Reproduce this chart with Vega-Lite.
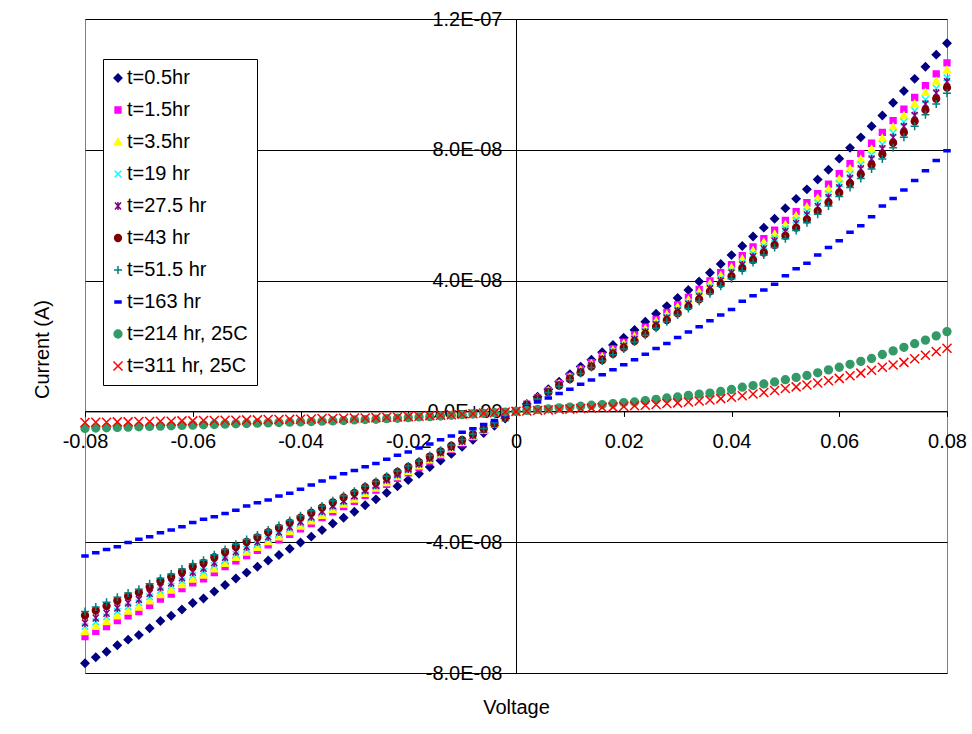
{
"$schema": "https://vega.github.io/schema/vega-lite/v6.json",
"width": 862, "height": 654,
"autosize": {"type": "none"},
"padding": {"left": 85, "top": 19, "right": 25, "bottom": 61},
"background": "white",
"config": {
  "view": {"stroke": "#808080", "strokeWidth": 1},
  "font": "Liberation Sans",
  "legend": {"orient": "none", "legendX": 18, "legendY": 40, "strokeColor": "black", "fillColor": "white", "padding": 9, "rowPadding": 12, "labelFontSize": 20, "labelFont": "Liberation Sans", "labelColor": "black", "symbolStrokeWidth": 1.5, "labelOffset": -1, "symbolOffset": -4, "symbolSize": 100, "labelLimit": 400}
},
"data": {"values": [
{"v":-0.080,"a":-7.70e-8,"b":-6.89e-8,"c":-6.74e-8,"d":-6.58e-8,"e":-6.47e-8,"f":-6.24e-8,"g":-6.12e-8,"h":-4.42e-8,"i":-0.52e-8,"j":-0.34e-8},
{"v":-0.078,"a":-7.52e-8,"b":-6.73e-8,"c":-6.58e-8,"d":-6.43e-8,"e":-6.32e-8,"f":-6.09e-8,"g":-5.98e-8,"h":-4.32e-8,"i":-0.51e-8,"j":-0.33e-8},
{"v":-0.076,"a":-7.35e-8,"b":-6.58e-8,"c":-6.43e-8,"d":-6.28e-8,"e":-6.17e-8,"f":-5.95e-8,"g":-5.84e-8,"h":-4.22e-8,"i":-0.50e-8,"j":-0.33e-8},
{"v":-0.074,"a":-7.15e-8,"b":-6.40e-8,"c":-6.26e-8,"d":-6.11e-8,"e":-6.01e-8,"f":-5.79e-8,"g":-5.68e-8,"h":-4.14e-8,"i":-0.49e-8,"j":-0.32e-8},
{"v":-0.072,"a":-6.98e-8,"b":-6.25e-8,"c":-6.11e-8,"d":-5.97e-8,"e":-5.86e-8,"f":-5.65e-8,"g":-5.55e-8,"h":-4.01e-8,"i":-0.48e-8,"j":-0.32e-8},
{"v":-0.070,"a":-6.84e-8,"b":-6.12e-8,"c":-5.99e-8,"d":-5.85e-8,"e":-5.75e-8,"f":-5.54e-8,"g":-5.44e-8,"h":-3.91e-8,"i":-0.47e-8,"j":-0.31e-8},
{"v":-0.068,"a":-6.63e-8,"b":-5.93e-8,"c":-5.80e-8,"d":-5.67e-8,"e":-5.57e-8,"f":-5.37e-8,"g":-5.27e-8,"h":-3.83e-8,"i":-0.46e-8,"j":-0.31e-8},
{"v":-0.066,"a":-6.41e-8,"b":-5.74e-8,"c":-5.61e-8,"d":-5.48e-8,"e":-5.38e-8,"f":-5.19e-8,"g":-5.10e-8,"h":-3.71e-8,"i":-0.45e-8,"j":-0.30e-8},
{"v":-0.064,"a":-6.25e-8,"b":-5.59e-8,"c":-5.47e-8,"d":-5.34e-8,"e":-5.25e-8,"f":-5.06e-8,"g":-4.97e-8,"h":-3.63e-8,"i":-0.44e-8,"j":-0.30e-8},
{"v":-0.062,"a":-6.06e-8,"b":-5.42e-8,"c":-5.30e-8,"d":-5.18e-8,"e":-5.09e-8,"f":-4.91e-8,"g":-4.82e-8,"h":-3.53e-8,"i":-0.43e-8,"j":-0.29e-8},
{"v":-0.060,"a":-5.86e-8,"b":-5.24e-8,"c":-5.13e-8,"d":-5.01e-8,"e":-4.92e-8,"f":-4.75e-8,"g":-4.66e-8,"h":-3.40e-8,"i":-0.42e-8,"j":-0.29e-8},
{"v":-0.058,"a":-5.72e-8,"b":-5.12e-8,"c":-5.01e-8,"d":-4.89e-8,"e":-4.80e-8,"f":-4.63e-8,"g":-4.55e-8,"h":-3.30e-8,"i":-0.41e-8,"j":-0.28e-8},
{"v":-0.056,"a":-5.51e-8,"b":-4.93e-8,"c":-4.82e-8,"d":-4.71e-8,"e":-4.63e-8,"f":-4.46e-8,"g":-4.38e-8,"h":-3.22e-8,"i":-0.40e-8,"j":-0.28e-8},
{"v":-0.054,"a":-5.31e-8,"b":-4.75e-8,"c":-4.65e-8,"d":-4.54e-8,"e":-4.46e-8,"f":-4.30e-8,"g":-4.22e-8,"h":-3.12e-8,"i":-0.39e-8,"j":-0.27e-8},
{"v":-0.052,"a":-5.11e-8,"b":-4.57e-8,"c":-4.47e-8,"d":-4.37e-8,"e":-4.29e-8,"f":-4.14e-8,"g":-4.06e-8,"h":-3.02e-8,"i":-0.38e-8,"j":-0.27e-8},
{"v":-0.050,"a":-4.93e-8,"b":-4.41e-8,"c":-4.31e-8,"d":-4.22e-8,"e":-4.14e-8,"f":-3.99e-8,"g":-3.92e-8,"h":-2.89e-8,"i":-0.37e-8,"j":-0.26e-8},
{"v":-0.048,"a":-4.75e-8,"b":-4.25e-8,"c":-4.16e-8,"d":-4.06e-8,"e":-3.99e-8,"f":-3.85e-8,"g":-3.78e-8,"h":-2.79e-8,"i":-0.36e-8,"j":-0.26e-8},
{"v":-0.046,"a":-4.56e-8,"b":-4.08e-8,"c":-3.99e-8,"d":-3.90e-8,"e":-3.83e-8,"f":-3.69e-8,"g":-3.63e-8,"h":-2.71e-8,"i":-0.35e-8,"j":-0.25e-8},
{"v":-0.044,"a":-4.39e-8,"b":-3.93e-8,"c":-3.84e-8,"d":-3.75e-8,"e":-3.69e-8,"f":-3.56e-8,"g":-3.49e-8,"h":-2.59e-8,"i":-0.34e-8,"j":-0.25e-8},
{"v":-0.042,"a":-4.20e-8,"b":-3.76e-8,"c":-3.68e-8,"d":-3.59e-8,"e":-3.53e-8,"f":-3.40e-8,"g":-3.34e-8,"h":-2.50e-8,"i":-0.33e-8,"j":-0.24e-8},
{"v":-0.040,"a":-4.01e-8,"b":-3.59e-8,"c":-3.51e-8,"d":-3.43e-8,"e":-3.37e-8,"f":-3.25e-8,"g":-3.19e-8,"h":-2.38e-8,"i":-0.32e-8,"j":-0.24e-8},
{"v":-0.038,"a":-3.83e-8,"b":-3.43e-8,"c":-3.35e-8,"d":-3.27e-8,"e":-3.22e-8,"f":-3.10e-8,"g":-3.04e-8,"h":-2.25e-8,"i":-0.31e-8,"j":-0.23e-8},
{"v":-0.036,"a":-3.63e-8,"b":-3.25e-8,"c":-3.18e-8,"d":-3.10e-8,"e":-3.05e-8,"f":-2.94e-8,"g":-2.89e-8,"h":-2.13e-8,"i":-0.30e-8,"j":-0.22e-8},
{"v":-0.034,"a":-3.43e-8,"b":-3.07e-8,"c":-3.00e-8,"d":-2.93e-8,"e":-2.88e-8,"f":-2.78e-8,"g":-2.73e-8,"h":-2.02e-8,"i":-0.29e-8,"j":-0.22e-8},
{"v":-0.032,"a":-3.25e-8,"b":-2.91e-8,"c":-2.84e-8,"d":-2.78e-8,"e":-2.73e-8,"f":-2.63e-8,"g":-2.58e-8,"h":-1.91e-8,"i":-0.28e-8,"j":-0.21e-8},
{"v":-0.030,"a":-3.07e-8,"b":-2.75e-8,"c":-2.69e-8,"d":-2.62e-8,"e":-2.58e-8,"f":-2.49e-8,"g":-2.44e-8,"h":-1.81e-8,"i":-0.26e-8,"j":-0.20e-8},
{"v":-0.028,"a":-2.87e-8,"b":-2.57e-8,"c":-2.51e-8,"d":-2.45e-8,"e":-2.41e-8,"f":-2.32e-8,"g":-2.28e-8,"h":-1.69e-8,"i":-0.25e-8,"j":-0.20e-8},
{"v":-0.026,"a":-2.69e-8,"b":-2.41e-8,"c":-2.35e-8,"d":-2.30e-8,"e":-2.26e-8,"f":-2.18e-8,"g":-2.14e-8,"h":-1.59e-8,"i":-0.24e-8,"j":-0.19e-8},
{"v":-0.024,"a":-2.49e-8,"b":-2.23e-8,"c":-2.18e-8,"d":-2.13e-8,"e":-2.09e-8,"f":-2.02e-8,"g":-1.98e-8,"h":-1.46e-8,"i":-0.22e-8,"j":-0.18e-8},
{"v":-0.022,"a":-2.29e-8,"b":-2.05e-8,"c":-2.00e-8,"d":-1.96e-8,"e":-1.92e-8,"f":-1.85e-8,"g":-1.82e-8,"h":-1.34e-8,"i":-0.21e-8,"j":-0.17e-8},
{"v":-0.020,"a":-2.10e-8,"b":-1.88e-8,"c":-1.84e-8,"d":-1.80e-8,"e":-1.76e-8,"f":-1.70e-8,"g":-1.67e-8,"h":-1.24e-8,"i":-0.19e-8,"j":-0.16e-8},
{"v":-0.018,"a":-1.91e-8,"b":-1.71e-8,"c":-1.67e-8,"d":-1.63e-8,"e":-1.60e-8,"f":-1.55e-8,"g":-1.52e-8,"h":-1.12e-8,"i":-0.17e-8,"j":-0.15e-8},
{"v":-0.016,"a":-1.70e-8,"b":-1.52e-8,"c":-1.49e-8,"d":-1.45e-8,"e":-1.43e-8,"f":-1.38e-8,"g":-1.35e-8,"h":-1.00e-8,"i":-0.16e-8,"j":-0.13e-8},
{"v":-0.014,"a":-1.50e-8,"b":-1.34e-8,"c":-1.31e-8,"d":-1.28e-8,"e":-1.26e-8,"f":-1.22e-8,"g":-1.19e-8,"h":-0.87e-8,"i":-0.14e-8,"j":-0.12e-8},
{"v":-0.012,"a":-1.30e-8,"b":-1.16e-8,"c":-1.14e-8,"d":-1.11e-8,"e":-1.09e-8,"f":-1.05e-8,"g":-1.03e-8,"h":-0.75e-8,"i":-0.12e-8,"j":-0.10e-8},
{"v":-0.010,"a":-1.08e-8,"b":-0.97e-8,"c":-0.95e-8,"d":-0.92e-8,"e":-0.91e-8,"f":-0.87e-8,"g":-0.86e-8,"h":-0.64e-8,"i":-0.10e-8,"j":-0.09e-8},
{"v":-0.008,"a":-0.87e-8,"b":-0.78e-8,"c":-0.76e-8,"d":-0.74e-8,"e":-0.73e-8,"f":-0.70e-8,"g":-0.69e-8,"h":-0.53e-8,"i":-0.08e-8,"j":-0.07e-8},
{"v":-0.006,"a":-0.66e-8,"b":-0.59e-8,"c":-0.58e-8,"d":-0.56e-8,"e":-0.55e-8,"f":-0.53e-8,"g":-0.52e-8,"h":-0.40e-8,"i":-0.06e-8,"j":-0.05e-8},
{"v":-0.004,"a":-0.44e-8,"b":-0.39e-8,"c":-0.38e-8,"d":-0.38e-8,"e":-0.37e-8,"f":-0.36e-8,"g":-0.35e-8,"h":-0.28e-8,"i":-0.04e-8,"j":-0.04e-8},
{"v":-0.002,"a":-0.22e-8,"b":-0.20e-8,"c":-0.19e-8,"d":-0.19e-8,"e":-0.18e-8,"f":-0.18e-8,"g":-0.17e-8,"h":-0.14e-8,"i":-0.02e-8,"j":-0.02e-8},
{"v":0,"a":0.01e-8,"b":0.01e-8,"c":0,"d":0,"e":0,"f":0,"g":0,"h":0,"i":0,"j":0},
{"v":0.002,"a":0.23e-8,"b":0.22e-8,"c":0.21e-8,"d":0.21e-8,"e":0.20e-8,"f":0.20e-8,"g":0.20e-8,"h":0.15e-8,"i":0.03e-8,"j":0.01e-8},
{"v":0.004,"a":0.45e-8,"b":0.42e-8,"c":0.41e-8,"d":0.41e-8,"e":0.40e-8,"f":0.39e-8,"g":0.38e-8,"h":0.29e-8,"i":0.06e-8,"j":0.03e-8},
{"v":0.006,"a":0.68e-8,"b":0.64e-8,"c":0.63e-8,"d":0.61e-8,"e":0.60e-8,"f":0.59e-8,"g":0.58e-8,"h":0.41e-8,"i":0.08e-8,"j":0.04e-8},
{"v":0.008,"a":0.91e-8,"b":0.86e-8,"c":0.84e-8,"d":0.82e-8,"e":0.81e-8,"f":0.79e-8,"g":0.77e-8,"h":0.55e-8,"i":0.11e-8,"j":0.06e-8},
{"v":0.010,"a":1.14e-8,"b":1.07e-8,"c":1.05e-8,"d":1.03e-8,"e":1.01e-8,"f":0.99e-8,"g":0.97e-8,"h":0.68e-8,"i":0.13e-8,"j":0.07e-8},
{"v":0.012,"a":1.37e-8,"b":1.29e-8,"c":1.26e-8,"d":1.23e-8,"e":1.21e-8,"f":1.19e-8,"g":1.16e-8,"h":0.83e-8,"i":0.16e-8,"j":0.09e-8},
{"v":0.014,"a":1.58e-8,"b":1.49e-8,"c":1.45e-8,"d":1.42e-8,"e":1.40e-8,"f":1.37e-8,"g":1.34e-8,"h":0.96e-8,"i":0.19e-8,"j":0.10e-8},
{"v":0.016,"a":1.81e-8,"b":1.70e-8,"c":1.67e-8,"d":1.63e-8,"e":1.60e-8,"f":1.57e-8,"g":1.54e-8,"h":1.12e-8,"i":0.21e-8,"j":0.12e-8},
{"v":0.018,"a":2.03e-8,"b":1.91e-8,"c":1.87e-8,"d":1.83e-8,"e":1.80e-8,"f":1.76e-8,"g":1.73e-8,"h":1.27e-8,"i":0.24e-8,"j":0.13e-8},
{"v":0.020,"a":2.25e-8,"b":2.12e-8,"c":2.07e-8,"d":2.03e-8,"e":1.99e-8,"f":1.95e-8,"g":1.91e-8,"h":1.43e-8,"i":0.27e-8,"j":0.15e-8},
{"v":0.022,"a":2.49e-8,"b":2.34e-8,"c":2.29e-8,"d":2.24e-8,"e":2.20e-8,"f":2.15e-8,"g":2.12e-8,"h":1.58e-8,"i":0.29e-8,"j":0.17e-8},
{"v":0.024,"a":2.74e-8,"b":2.58e-8,"c":2.52e-8,"d":2.47e-8,"e":2.42e-8,"f":2.37e-8,"g":2.33e-8,"h":1.75e-8,"i":0.33e-8,"j":0.19e-8},
{"v":0.026,"a":2.99e-8,"b":2.81e-8,"c":2.75e-8,"d":2.69e-8,"e":2.65e-8,"f":2.59e-8,"g":2.54e-8,"h":1.92e-8,"i":0.37e-8,"j":0.21e-8},
{"v":0.028,"a":3.22e-8,"b":3.03e-8,"c":2.96e-8,"d":2.90e-8,"e":2.85e-8,"f":2.79e-8,"g":2.74e-8,"h":2.08e-8,"i":0.41e-8,"j":0.24e-8},
{"v":0.030,"a":3.47e-8,"b":3.26e-8,"c":3.19e-8,"d":3.12e-8,"e":3.07e-8,"f":3.00e-8,"g":2.95e-8,"h":2.26e-8,"i":0.44e-8,"j":0.26e-8},
{"v":0.032,"a":3.71e-8,"b":3.49e-8,"c":3.41e-8,"d":3.34e-8,"e":3.28e-8,"f":3.21e-8,"g":3.15e-8,"h":2.43e-8,"i":0.49e-8,"j":0.29e-8},
{"v":0.034,"a":3.97e-8,"b":3.73e-8,"c":3.65e-8,"d":3.57e-8,"e":3.51e-8,"f":3.43e-8,"g":3.37e-8,"h":2.59e-8,"i":0.53e-8,"j":0.32e-8},
{"v":0.036,"a":4.24e-8,"b":3.99e-8,"c":3.90e-8,"d":3.82e-8,"e":3.75e-8,"f":3.67e-8,"g":3.60e-8,"h":2.77e-8,"i":0.56e-8,"j":0.35e-8},
{"v":0.038,"a":4.51e-8,"b":4.24e-8,"c":4.15e-8,"d":4.06e-8,"e":3.99e-8,"f":3.90e-8,"g":3.83e-8,"h":2.95e-8,"i":0.61e-8,"j":0.39e-8},
{"v":0.040,"a":4.78e-8,"b":4.49e-8,"c":4.40e-8,"d":4.30e-8,"e":4.23e-8,"f":4.13e-8,"g":4.06e-8,"h":3.12e-8,"i":0.67e-8,"j":0.43e-8},
{"v":0.042,"a":5.06e-8,"b":4.76e-8,"c":4.66e-8,"d":4.55e-8,"e":4.48e-8,"f":4.38e-8,"g":4.30e-8,"h":3.37e-8,"i":0.74e-8,"j":0.48e-8},
{"v":0.044,"a":5.35e-8,"b":5.03e-8,"c":4.92e-8,"d":4.82e-8,"e":4.73e-8,"f":4.63e-8,"g":4.55e-8,"h":3.54e-8,"i":0.79e-8,"j":0.53e-8},
{"v":0.046,"a":5.62e-8,"b":5.28e-8,"c":5.17e-8,"d":5.06e-8,"e":4.97e-8,"f":4.86e-8,"g":4.78e-8,"h":3.71e-8,"i":0.84e-8,"j":0.58e-8},
{"v":0.048,"a":5.89e-8,"b":5.54e-8,"c":5.42e-8,"d":5.30e-8,"e":5.21e-8,"f":5.09e-8,"g":5.01e-8,"h":3.89e-8,"i":0.90e-8,"j":0.64e-8},
{"v":0.050,"a":6.21e-8,"b":5.84e-8,"c":5.71e-8,"d":5.59e-8,"e":5.50e-8,"f":5.37e-8,"g":5.28e-8,"h":4.15e-8,"i":0.97e-8,"j":0.70e-8},
{"v":0.052,"a":6.50e-8,"b":6.11e-8,"c":5.98e-8,"d":5.85e-8,"e":5.75e-8,"f":5.62e-8,"g":5.53e-8,"h":4.36e-8,"i":1.04e-8,"j":0.75e-8},
{"v":0.054,"a":6.79e-8,"b":6.38e-8,"c":6.25e-8,"d":6.11e-8,"e":6.01e-8,"f":5.87e-8,"g":5.77e-8,"h":4.53e-8,"i":1.10e-8,"j":0.81e-8},
{"v":0.056,"a":7.09e-8,"b":6.66e-8,"c":6.52e-8,"d":6.38e-8,"e":6.27e-8,"f":6.13e-8,"g":6.03e-8,"h":4.78e-8,"i":1.18e-8,"j":0.87e-8},
{"v":0.058,"a":7.39e-8,"b":6.95e-8,"c":6.80e-8,"d":6.65e-8,"e":6.54e-8,"f":6.39e-8,"g":6.28e-8,"h":5.01e-8,"i":1.27e-8,"j":0.94e-8},
{"v":0.060,"a":7.73e-8,"b":7.27e-8,"c":7.11e-8,"d":6.96e-8,"e":6.84e-8,"f":6.69e-8,"g":6.57e-8,"h":5.22e-8,"i":1.35e-8,"j":1.01e-8},
{"v":0.062,"a":8.06e-8,"b":7.58e-8,"c":7.42e-8,"d":7.25e-8,"e":7.13e-8,"f":6.97e-8,"g":6.85e-8,"h":5.48e-8,"i":1.44e-8,"j":1.09e-8},
{"v":0.064,"a":8.38e-8,"b":7.88e-8,"c":7.71e-8,"d":7.54e-8,"e":7.42e-8,"f":7.25e-8,"g":7.12e-8,"h":5.68e-8,"i":1.53e-8,"j":1.17e-8},
{"v":0.066,"a":8.72e-8,"b":8.20e-8,"c":8.02e-8,"d":7.85e-8,"e":7.72e-8,"f":7.54e-8,"g":7.41e-8,"h":5.95e-8,"i":1.62e-8,"j":1.26e-8},
{"v":0.068,"a":9.05e-8,"b":8.53e-8,"c":8.35e-8,"d":8.17e-8,"e":8.03e-8,"f":7.86e-8,"g":7.72e-8,"h":6.28e-8,"i":1.74e-8,"j":1.35e-8},
{"v":0.070,"a":9.44e-8,"b":8.89e-8,"c":8.70e-8,"d":8.52e-8,"e":8.38e-8,"f":8.21e-8,"g":8.06e-8,"h":6.51e-8,"i":1.85e-8,"j":1.42e-8},
{"v":0.072,"a":9.80e-8,"b":9.24e-8,"c":9.05e-8,"d":8.85e-8,"e":8.71e-8,"f":8.53e-8,"g":8.38e-8,"h":6.77e-8,"i":1.96e-8,"j":1.50e-8},
{"v":0.074,"a":10.17e-8,"b":9.60e-8,"c":9.40e-8,"d":9.19e-8,"e":9.05e-8,"f":8.87e-8,"g":8.72e-8,"h":7.06e-8,"i":2.07e-8,"j":1.61e-8},
{"v":0.076,"a":10.54e-8,"b":9.96e-8,"c":9.75e-8,"d":9.54e-8,"e":9.40e-8,"f":9.22e-8,"g":9.07e-8,"h":7.36e-8,"i":2.18e-8,"j":1.72e-8},
{"v":0.078,"a":10.91e-8,"b":10.32e-8,"c":10.10e-8,"d":9.88e-8,"e":9.74e-8,"f":9.56e-8,"g":9.40e-8,"h":7.67e-8,"i":2.31e-8,"j":1.83e-8},
{"v":0.080,"a":11.26e-8,"b":10.66e-8,"c":10.44e-8,"d":10.20e-8,"e":10.08e-8,"f":9.90e-8,"g":9.73e-8,"h":7.97e-8,"i":2.44e-8,"j":1.93e-8}
]},
"transform": [
  {"fold": ["a","b","c","d","e","f","g","h","i","j"], "as": ["k","cur"]},
  {"lookup": "k", "from": {"data": {"values": [
    {"k":"a","s":"t=0.5hr"},{"k":"b","s":"t=1.5hr"},{"k":"c","s":"t=3.5hr"},{"k":"d","s":"t=19 hr"},{"k":"e","s":"t=27.5 hr"},
    {"k":"f","s":"t=43 hr"},{"k":"g","s":"t=51.5 hr"},{"k":"h","s":"t=163 hr"},{"k":"i","s":"t=214 hr, 25C"},{"k":"j","s":"t=311 hr, 25C"}
  ]}, "key": "k", "fields": ["s"]}}
],
"mark": {"type": "point", "filled": true, "opacity": 1, "strokeWidth": 1.5, "size": 100, "clip": false},
"encoding": {
  "x": {"field": "v", "type": "quantitative",
    "scale": {"domain": [-0.08, 0.08], "nice": false, "zero": false},
    "axis": {"values": [-0.08,-0.06,-0.04,-0.02,0,0.02,0.04,0.06,0.08], "offset": -261.6, "grid": false,
      "domainColor": "black", "tickColor": "black", "tickSize": 5, "labelFontSize": 20, "labelColor": "black", "labelFont": "Liberation Sans",
      "labelPadding": 15, "labelOverlap": false, "labelFlush": false, "labelBound": false,
      "labelExpr": "datum.value == 0 ? '0' : replace(format(datum.value, '.2f'), '\u2212', '-')",
      "title": "Voltage", "titleX": 431, "titleY": 296, "titleBaseline": "middle", "titleFontSize": 20, "titleFontWeight": "normal", "titleColor": "black", "titleFont": "Liberation Sans"}},
  "y": {"field": "cur", "type": "quantitative",
    "scale": {"domain": [-8e-8, 1.2e-7], "nice": false, "zero": false},
    "axis": {"values": [-8e-8,-4e-8,0,4e-8,8e-8,1.2e-7], "offset": -431, "grid": true, "gridColor": "black", "gridOpacity": 1, "gridWidth": 1,
      "domainColor": "black", "tickColor": "black", "tickSize": 6, "labelFontSize": 20, "labelColor": "black", "labelFont": "Liberation Sans",
      "labelPadding": 8, "labelOverlap": false, "labelFlush": false, "labelBound": false,
      "labelExpr": "replace(replace(replace(format(datum.value, '.1e'), 'e-', 'E-0'), 'e+', 'E+0'), '\u2212', '-')",
      "title": "Current (A)", "titleX": -474, "titleY": 330, "titleBaseline": "middle", "titleFontSize": 20, "titleFontWeight": "normal", "titleColor": "black", "titleFont": "Liberation Sans"}},
  "shape": {"field": "s", "type": "nominal", "legend": {"title": null},
    "scale": {"domain": ["t=0.5hr","t=1.5hr","t=3.5hr","t=19 hr","t=27.5 hr","t=43 hr","t=51.5 hr","t=163 hr","t=214 hr, 25C","t=311 hr, 25C"],
      "range": [
        "M0,-0.78L0.78,0L0,0.78L-0.78,0Z",
        "M-0.58,-0.58L0.58,-0.58L0.58,0.58L-0.58,0.58Z",
        "M0,-0.7L0.72,0.55L-0.72,0.55Z",
        "M-0.65,-0.65L0.65,0.65M-0.65,0.65L0.65,-0.65",
        "M-0.6,-0.7L0.6,0.7M-0.6,0.7L0.6,-0.7M0,-0.8L0,0.8",
        "M0.68,0A0.68,0.68 0 1,1 -0.68,0A0.68,0.68 0 1,1 0.68,0Z",
        "M-0.8,0L0.8,0M0,-0.8L0,0.8",
        "M-0.6,-0.2L0.6,-0.2L0.6,0.2L-0.6,0.2Z",
        "M0.78,0A0.78,0.78 0 1,1 -0.78,0A0.78,0.78 0 1,1 0.78,0Z",
        "M-0.9,-0.9L0.9,0.9M-0.9,0.9L0.9,-0.9"]}},
  "fill": {"field": "s", "type": "nominal", "legend": {"title": null},
    "scale": {"domain": ["t=0.5hr","t=1.5hr","t=3.5hr","t=19 hr","t=27.5 hr","t=43 hr","t=51.5 hr","t=163 hr","t=214 hr, 25C","t=311 hr, 25C"],
      "range": ["#000080","#FF00FF","#FFFF00","#00FFFF","#800080","#800000","#008080","#0000FF","#339966","#FF0000"]}},
  "stroke": {"field": "s", "type": "nominal", "legend": {"title": null},
    "scale": {"domain": ["t=0.5hr","t=1.5hr","t=3.5hr","t=19 hr","t=27.5 hr","t=43 hr","t=51.5 hr","t=163 hr","t=214 hr, 25C","t=311 hr, 25C"],
      "range": ["#000080","#FF00FF","#FFFF00","#00FFFF","#800080","#800000","#008080","#0000FF","#339966","#FF0000"]}},
  "order": {"field": "k", "type": "ordinal"}
}
}
